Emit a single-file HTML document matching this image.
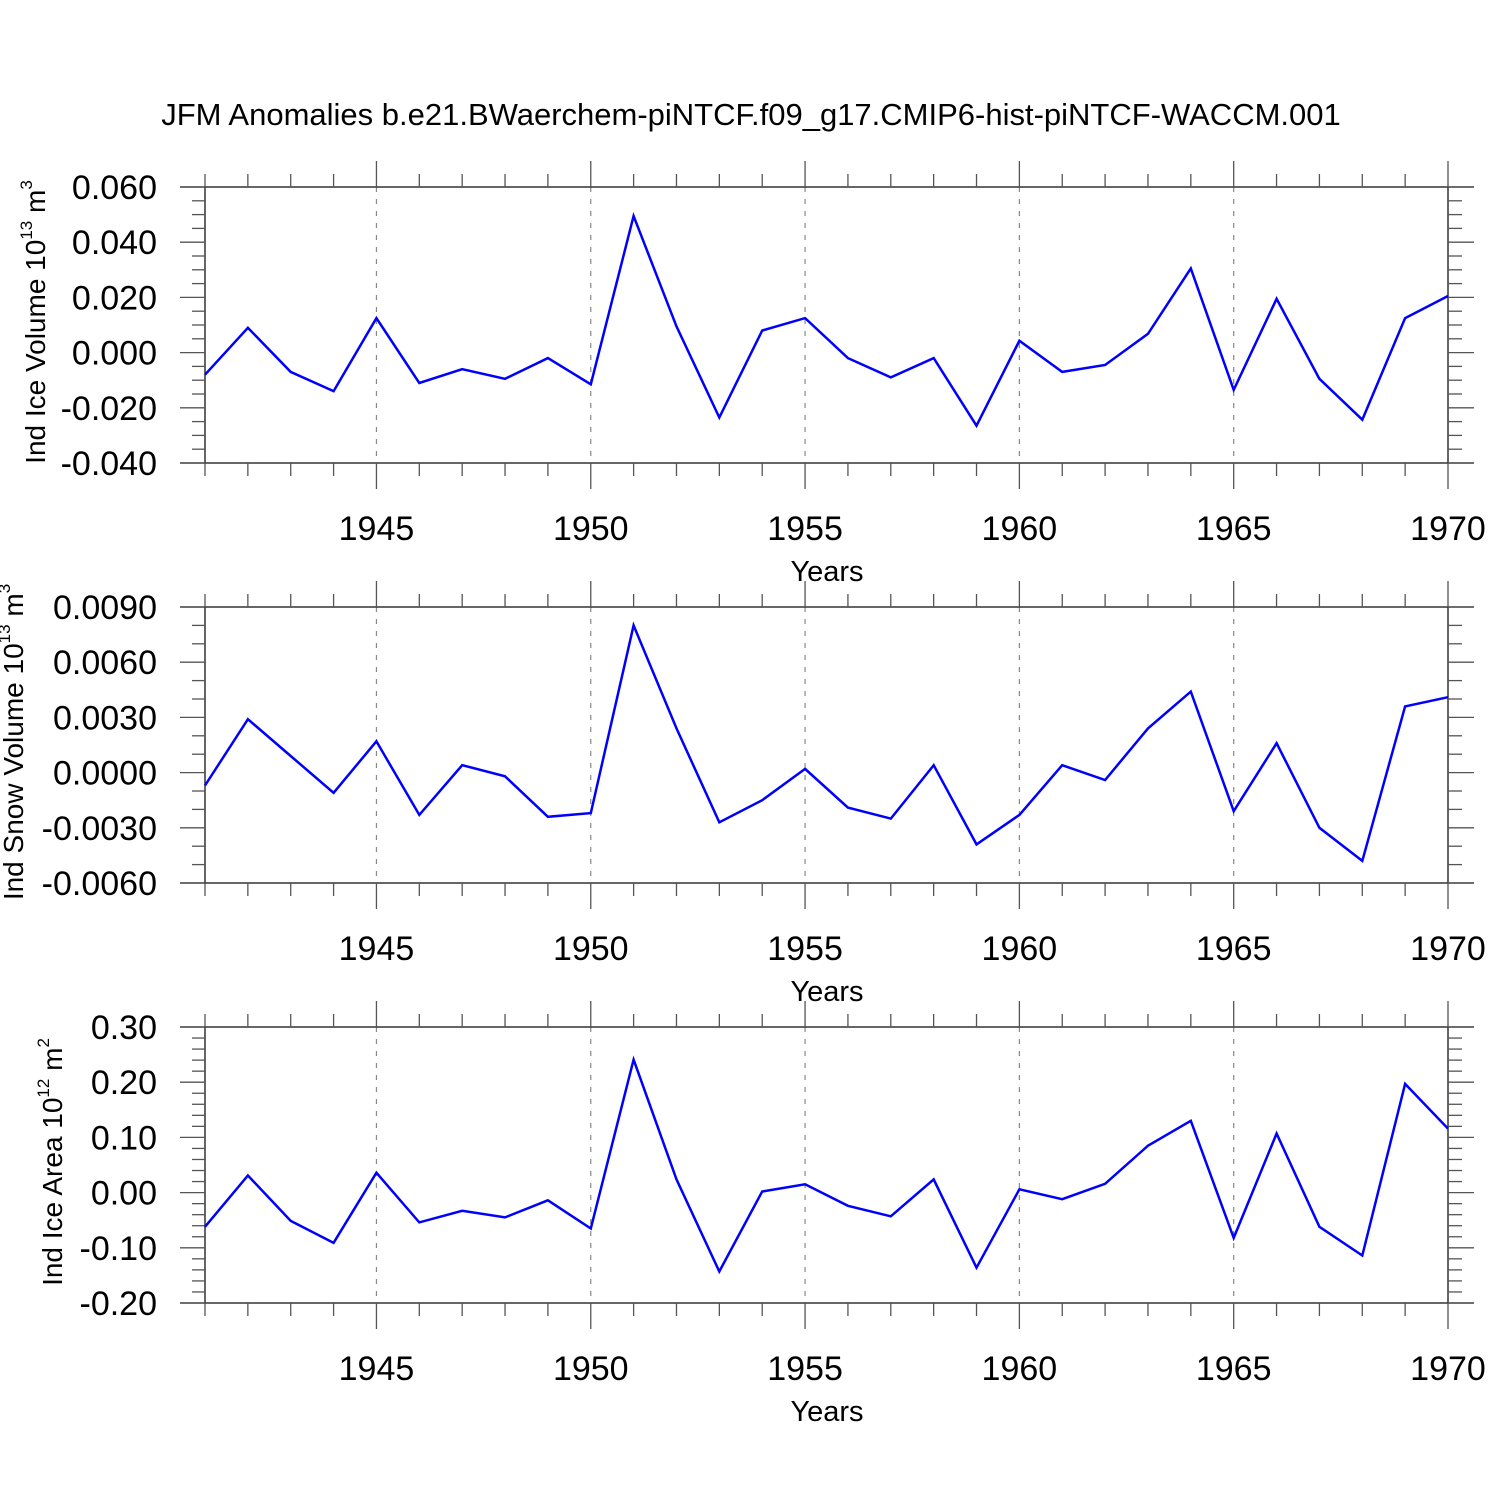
<!DOCTYPE html>
<html><head><meta charset="utf-8"><style>
html,body{margin:0;padding:0;background:#fff;}
svg{display:block;font-family:"Liberation Sans",Arial,sans-serif;}
</style></head><body>
<svg id="chart" width="1500" height="1500" viewBox="0 0 1500 1500" xmlns="http://www.w3.org/2000/svg">
<rect width="1500" height="1500" fill="#fff"/>
<text x="751" y="125" font-size="31" text-anchor="middle">JFM Anomalies b.e21.BWaerchem-piNTCF.f09_g17.CMIP6-hist-piNTCF-WACCM.001</text>
</svg>
<script>
const years = [1941,1942,1943,1944,1945,1946,1947,1948,1949,1950,1951,1952,1953,1954,1955,1956,1957,1958,1959,1960,1961,1962,1963,1964,1965,1966,1967,1968,1969,1970];
const iceVolume = [-0.008,0.009,-0.007,-0.014,0.0125,-0.011,-0.006,-0.0095,-0.002,-0.0115,0.0495,0.0095,-0.0235,0.008,0.0125,-0.002,-0.009,-0.002,-0.0265,0.0043,-0.007,-0.0045,0.0068,0.0305,-0.0135,0.0195,-0.0095,-0.0243,0.0125,0.0205];
const snowVolume = [-0.0007,0.0029,0.0009,-0.0011,0.0017,-0.0023,0.0004,-0.0002,-0.0024,-0.0022,0.0080,0.0024,-0.0027,-0.0015,0.0002,-0.0019,-0.0025,0.0004,-0.0039,-0.0023,0.0004,-0.0004,0.0024,0.0044,-0.0021,0.0016,-0.0030,-0.0048,0.0036,0.0041];
const iceArea = [-0.062,0.031,-0.051,-0.091,0.036,-0.054,-0.033,-0.045,-0.014,-0.065,0.241,0.024,-0.143,0.002,0.015,-0.024,-0.043,0.024,-0.136,0.006,-0.012,0.016,0.085,0.130,-0.082,0.107,-0.062,-0.114,0.197,0.116];
const xTickYears = [1945,1950,1955,1960,1965,1970];
const ticks1 = ["0.060","0.040","0.020","0.000","-0.020","-0.040"];
const ticks2 = ["0.0090","0.0060","0.0030","0.0000","-0.0030","-0.0060"];
const ticks3 = ["0.30","0.20","0.10","0.00","-0.10","-0.20"];

const NS="http://www.w3.org/2000/svg";
const svg=document.getElementById('chart');
function mk(tag,attrs,parent){const e=document.createElementNS(NS,tag);for(const k in attrs)e.setAttribute(k,attrs[k]);(parent||svg).appendChild(e);return e;}
const X0=205,X1=1448,yMin=1941,yMax=1970;
function xs(yr){return X0+(yr-yMin)/(yMax-yMin)*(X1-X0);}

const panels=[
 {name:'ice-volume',data:iceVolume,ticks:ticks1,minorDiv:4,top:187,titleX:45,label:'Ind Ice Volume 10',sup:'13',unit:' m',usup:'3'},
 {name:'snow-volume',data:snowVolume,ticks:ticks2,minorDiv:3,top:607,titleX:23,label:'Ind Snow Volume 10',sup:'13',unit:' m',usup:'3'},
 {name:'ice-area',data:iceArea,ticks:ticks3,minorDiv:5,top:1027,titleX:62,label:'Ind Ice Area 10',sup:'12',unit:' m',usup:'2'}
];
panels.forEach(p=>{
 const g=mk('g',{});
 
 
 const T=p.top,B=T+276;
 const vTop=parseFloat(p.ticks[0]),vBot=parseFloat(p.ticks[p.ticks.length-1]);
 const ys=v=>T+(vTop-v)/(vTop-vBot)*(B-T);
 xTickYears.forEach(yr=>{if(yr<yMax){const l=mk('line',{x1:xs(yr),x2:xs(yr),y1:T,y2:B,stroke:'#888','stroke-width':1.2,'stroke-dasharray':'5,7'},g);
  }});
 const fr=mk('g',{stroke:'#333','stroke-width':1.5},g);
 
 mk('line',{x1:180,x2:1474,y1:T,y2:T},fr);
 mk('line',{x1:180,x2:1474,y1:B,y2:B},fr);
 mk('line',{x1:X0,x2:X0,y1:T,y2:B},fr);
 mk('line',{x1:X1,x2:X1,y1:T,y2:B},fr);
 const xt=mk('g',{stroke:'#555','stroke-width':1.3},g);
 
 years.forEach(yr=>{const maj=xTickYears.includes(yr);const L=maj?26:13;
  mk('line',{x1:xs(yr),x2:xs(yr),y1:T,y2:T-L},xt);mk('line',{x1:xs(yr),x2:xs(yr),y1:B,y2:B+L},xt);});
 xTickYears.forEach(yr=>{const t=mk('text',{x:xs(yr),y:T+353,'font-size':34,'text-anchor':'middle'},g);t.textContent=yr;
  });
 const xl=mk('text',{x:827,y:T+394,'font-size':29,'text-anchor':'middle'},g);xl.textContent='Years';
 
 const yt=mk('g',{stroke:'#555','stroke-width':1.3},g);
 
 const n=p.ticks.length;
 for(let i=0;i<n;i++){const y=T+i*(B-T)/(n-1);
  mk('line',{x1:X0,x2:180,y1:y,y2:y},yt);mk('line',{x1:X1,x2:1474,y1:y,y2:y},yt);
  if(i<n-1)for(let k=1;k<p.minorDiv;k++){const ym=y+k*(B-T)/(n-1)/p.minorDiv;
   mk('line',{x1:X0,x2:192,y1:ym,y2:ym},yt);mk('line',{x1:X1,x2:1462,y1:ym,y2:ym},yt);}
  const t=mk('text',{x:157,y:y+12,'font-size':34,'text-anchor':'end'},g);t.textContent=p.ticks[i];
  }
 const yc=(T+B)/2-3;
 const ytl=mk('text',{x:0,y:0,'font-size':28,'text-anchor':'middle',transform:`translate(${p.titleX},${yc}) rotate(-90)`},g);
 
 const a=mk('tspan',{},ytl);a.textContent=p.label;
 const b=mk('tspan',{dy:-13,'font-size':17},ytl);b.textContent=p.sup;
 const c=mk('tspan',{dy:13},ytl);c.textContent=p.unit;
 const d=mk('tspan',{dy:-13,'font-size':17},ytl);d.textContent=p.usup;
 const pts=p.data.map((v,i)=>xs(years[i]).toFixed(1)+','+ys(v).toFixed(1)).join(' ');
 const pl=mk('polyline',{points:pts,fill:'none',stroke:'#0000ff','stroke-width':2.5,'stroke-linejoin':'miter'},g);
 
});
</script>
</body></html>
